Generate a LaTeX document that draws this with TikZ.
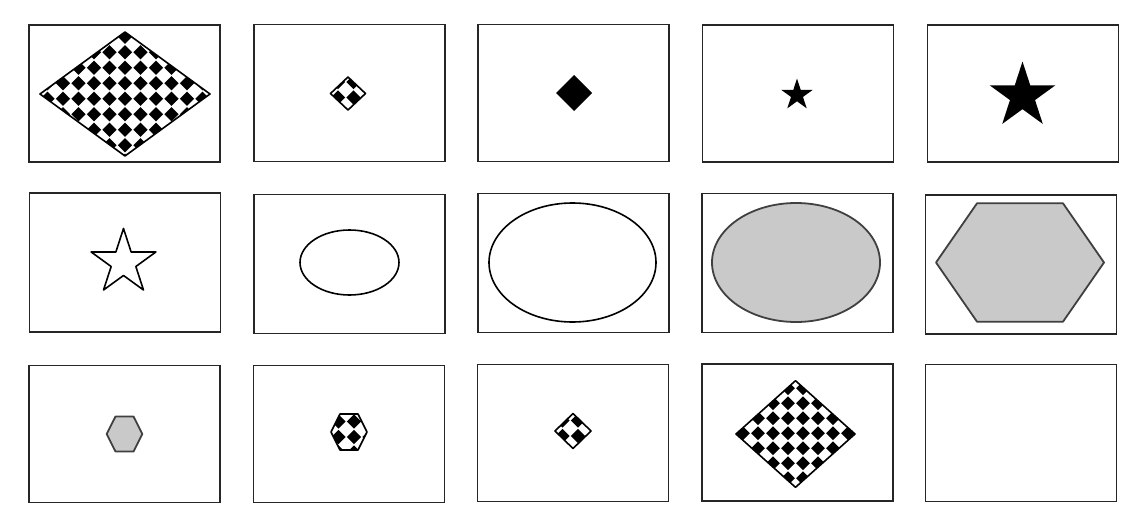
\documentclass[tikz,border=0pt]{standalone}
\usetikzlibrary{shapes.geometric}
\newcommand{\mystar}[4]{\path[#1] ({#2},{#3-#4}) \foreach \k in {1,...,9} { -- ({#2+(0.691+0.309*cos(180*\k))*#4*sin(36*\k)},{#3-(0.691+0.309*cos(180*\k))*#4*cos(36*\k)}) } -- cycle;}
\newcommand{\chk}[6]{\foreach \i in {-#5,...,#5} {\foreach \j in {-#6,...,#6} {\fill[black] ({#1+\i*#3},{#2+\j*#3}) +(-#4,0) -- +(0,-#4) -- +(#4,0) -- +(0,#4) -- cycle;}}}
\tikzset{
  frame/.style={draw=black!85, line width=1.8pt, minimum width=191pt, minimum height=137pt, inner sep=0pt},
  shapeline/.style={draw=black, line width=1.6pt, line join=round},
  grayshape/.style={draw=black!75, fill=black!21, line width=1.8pt, line join=round},
}
\begin{document}
\begin{tikzpicture}[x=1pt,y=-1pt]
\useasboundingbox[fill=white] (0,0) rectangle (1144,530);
% frames
\node[frame] (b1) at (124.5,93.5) {};
\node[frame] (b2) at (349.5,93) {};
\node[frame] (b3) at (573.5,93) {};
\node[frame] (b4) at (798,93.5) {};
\node[frame] (b5) at (1023,93.5) {};
\node[frame, minimum height=139pt] (b6) at (125,262.5) {};
\node[frame, minimum height=139pt] (b7) at (349.5,264) {};
\node[frame, minimum height=139pt] (b8) at (573.5,263) {};
\node[frame, minimum height=139pt] (b9) at (797.5,263) {};
\node[frame, minimum height=139pt] (b10) at (1021,264.5) {};
\node[frame] (b11) at (124.5,434) {};
\node[frame] (b12) at (349,434) {};
\node[frame] (b13) at (573,433) {};
\node[frame] (b14) at (797.5,432.5) {};
\node[frame] (b15) at (1021,433) {};
% 1: large checkered diamond
\begin{scope}
  \clip (40,94) -- (125,32) -- (210,94) -- (125,156) -- cycle;
  \chk{125}{83.2}{15.5}{7.1}{7}{6}
\end{scope}
\draw[shapeline] (40,94) -- (125,32) -- (210,94) -- (125,156) -- cycle;
% 2: small checkered diamond
\begin{scope}
  \clip (330.5,93.5) -- (348,77) -- (365.5,93.5) -- (348,110) -- cycle;
  \chk{338}{97.5}{15.5}{7.1}{2}{2}
\end{scope}
\draw[shapeline] (330.5,93.5) -- (348,77) -- (365.5,93.5) -- (348,110) -- cycle;
% 3: black diamond
\fill[black] (556,93) -- (574,75) -- (592,93) -- (574,111) -- cycle;
% 4, 5: black stars
\mystar{fill=black}{797}{95}{16.5}
\mystar{fill=black}{1022.5}{96}{34.5}
% 6: outlined star
\mystar{shapeline,fill=white}{123.5}{262.5}{34}
% 7, 8: ellipses
\node[shapeline, ellipse, minimum width=99pt, minimum height=65pt, inner sep=0pt] (e7) at (349.5,262.5) {};
\node[shapeline, ellipse, minimum width=167pt, minimum height=119pt, inner sep=0pt] (e8) at (572.5,262.5) {};
% 9: gray ellipse
\node[grayshape, ellipse, minimum width=168pt, minimum height=119pt, inner sep=0pt] (e9) at (796,262.5) {};
% 10: gray hexagon
\path[grayshape] (936,262.5) -- (977,203.3) -- (1063,203.3) -- (1104,262.5) -- (1063,321.7) -- (977,321.7) -- cycle;
% 11: small gray hexagon
\path[grayshape] (106.7,434) -- (115.5,416.5) -- (133.5,416.5) -- (142.3,434) -- (133.5,451.5) -- (115.5,451.5) -- cycle;
% 12: checkered hexagon
\begin{scope}
  \clip (331,432) -- (340,414) -- (358,414) -- (367,432) -- (358,450) -- (340,450) -- cycle;
  \chk{338.5}{437}{15.5}{7.1}{2}{2}
\end{scope}
\draw[shapeline] (331,432) -- (340,414) -- (358,414) -- (367,432) -- (358,450) -- (340,450) -- cycle;
% 13: small checkered diamond
\begin{scope}
  \clip (555,431) -- (573,413.5) -- (591,431) -- (573,448.5) -- cycle;
  \chk{562.5}{436}{15.5}{7.1}{2}{2}
\end{scope}
\draw[shapeline] (555,431) -- (573,413.5) -- (591,431) -- (573,448.5) -- cycle;
% 14: medium checkered diamond
\begin{scope}
  \clip (736,434) -- (795.5,380.7) -- (855,434) -- (795.5,487.3) -- cycle;
  \chk{788}{433.3}{15}{6.9}{5}{5}
\end{scope}
\draw[shapeline] (736,434) -- (795.5,380.7) -- (855,434) -- (795.5,487.3) -- cycle;
\end{tikzpicture}
\end{document}
